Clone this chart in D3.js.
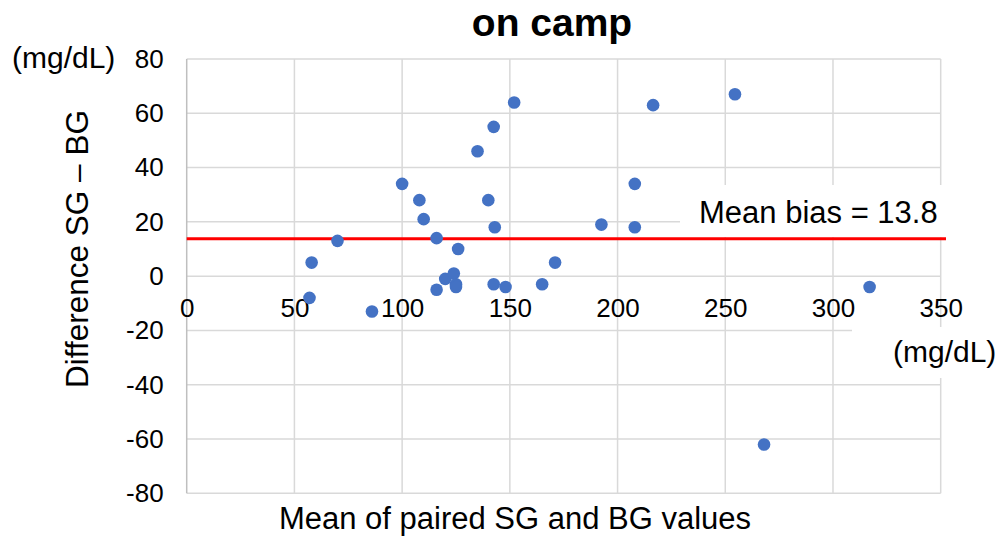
<!DOCTYPE html>
<html>
<head>
<meta charset="utf-8">
<script src="https://cdn.jsdelivr.net/npm/d3@7"></script>
<style>
  html, body { margin: 0; padding: 0; background: #fff; }
  svg { display: block; font-family: "Liberation Sans", Arial, sans-serif; }
</style>
</head>
<body>
<svg id="chart" width="1002" height="536"></svg>
<script>
// Bland–Altman data: mean of paired SG/BG values vs. their difference (mg/dL)
const meanValues = [57, 58, 70, 86, 100, 108, 110, 116, 116, 120, 124, 125, 125, 126, 135,
                    140, 142.5, 142.5, 143, 148, 152, 165, 171, 192.5, 208, 208, 216.5, 254.5, 268, 317];
const diffValues = [-8, 5, 13, -13, 34, 28, 21, 14, -5, -1, 1, -3, -4, 10, 46,
                    28, 55, -3, 18, -4, 64, -3, 5, 19, 34, 18, 63, 67, -62, -4];
const meanBias = 13.8;

const xTicks = [0, 50, 100, 150, 200, 250, 300, 350];
const yTicks = [-80, -60, -40, -20, 0, 20, 40, 60, 80];

const titleText = "on camp";
const xTitle = "Mean of paired SG and BG values";
const yTitle = "Difference SG \u2013 BG";
const unitText = "(mg/dL)";
const biasLabel = "Mean bias = " + meanBias;

const svg = d3.select("#chart");
const plotLeft = 186.7, plotRight = 940.7, plotTop = 59, plotBottom = 493.3;

const x = d3.scaleLinear().domain([0, 350]).range([plotLeft, plotRight]);
const y = d3.scaleLinear().domain([-80, 80]).range([plotBottom, plotTop]);

// gridlines
const grid = svg.append("g");
grid.selectAll("line.h").data(yTicks).join("line")
  .attr("class", "h")
  .attr("x1", plotLeft).attr("x2", plotRight)
  .attr("y1", d => y(d)).attr("y2", d => y(d))
  .attr("stroke", "#d9d9d9").attr("stroke-width", 1.5);
grid.selectAll("line.v").data(xTicks.slice(1)).join("line")
  .attr("class", "v")
  .attr("x1", d => x(d)).attr("x2", d => x(d))
  .attr("y1", plotTop).attr("y2", plotBottom)
  .attr("stroke", "#d9d9d9").attr("stroke-width", 1.5);
grid.append("line")
  .attr("x1", plotLeft).attr("x2", plotLeft).attr("y1", plotTop).attr("y2", plotBottom)
  .attr("stroke", "#bfbfbf").attr("stroke-width", 1.5);

// white boxes behind the in-plot labels
svg.append("rect").attr("x", 680).attr("y", 185).attr("width", 322).attr("height", 52).attr("fill", "#fff");
svg.append("rect").attr("x", 852).attr("y", 327).attr("width", 150).attr("height", 51).attr("fill", "#fff");

// mean bias line
svg.append("line")
  .attr("x1", plotLeft).attr("x2", 946)
  .attr("y1", y(meanBias)).attr("y2", y(meanBias))
  .attr("stroke", "#ff0000").attr("stroke-width", 3);

// y axis (plain hyphen for negatives)
const yAxis = svg.append("g").attr("transform", `translate(${plotLeft},0)`)
  .call(d3.axisLeft(y).tickValues(yTicks).tickFormat(d => String(d)).tickSize(0).tickPadding(23));
yAxis.select(".domain").remove();
yAxis.selectAll("text").attr("font-size", 26).attr("fill", "#000")
  .attr("font-family", "Liberation Sans, Arial, sans-serif");

// x axis crossing at zero
const xAxis = svg.append("g").attr("transform", `translate(0,${y(0)})`)
  .call(d3.axisBottom(x).tickValues(xTicks).tickFormat(d => String(d)).tickSize(0).tickPadding(22));
xAxis.select(".domain").remove();
xAxis.selectAll("text").attr("font-size", 26).attr("fill", "#000")
  .attr("font-family", "Liberation Sans, Arial, sans-serif");

// points
svg.append("g").selectAll("circle")
  .data(meanValues.map((m, i) => [m, diffValues[i]]))
  .join("circle")
  .attr("cx", d => x(d[0])).attr("cy", d => y(d[1]))
  .attr("r", 6.3).attr("fill", "#4472c4");

// texts
svg.append("text").attr("x", 552).attr("y", 36).attr("text-anchor", "middle")
  .attr("font-size", 39).attr("font-weight", "bold").text(titleText);
svg.append("text").attr("x", 12).attr("y", 68).attr("font-size", 30).text(unitText);
svg.append("text").attr("x", 893).attr("y", 362).attr("font-size", 30).text(unitText);
svg.append("text").attr("x", 699).attr("y", 223).attr("font-size", 31).text(biasLabel);
svg.append("text").attr("x", 515).attr("y", 529).attr("text-anchor", "middle")
  .attr("font-size", 31).text(xTitle);
svg.append("text").attr("transform", "translate(88,249) rotate(-90)")
  .attr("text-anchor", "middle").attr("font-size", 31.5).text(yTitle);
</script>
</body>
</html>
